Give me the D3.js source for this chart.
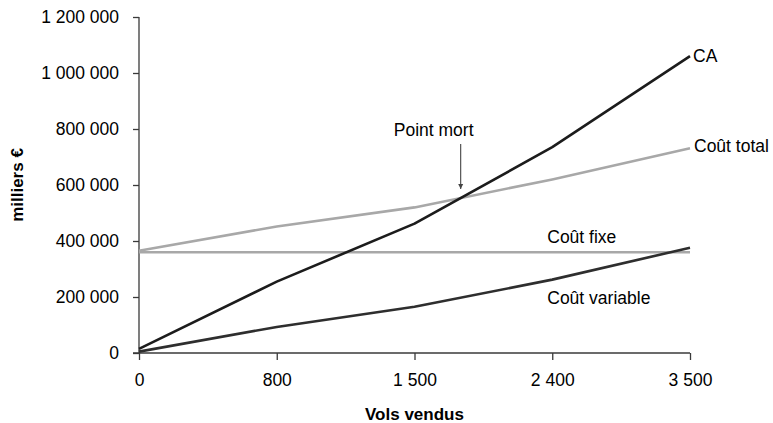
<!DOCTYPE html>
<html lang="fr">
<head>
<meta charset="utf-8">
<script src="https://cdn.jsdelivr.net/npm/d3@7"></script>
<style>
  html, body { margin: 0; padding: 0; background: #fff; }
  svg { display: block; font-family: "Liberation Sans", Arial, Helvetica, sans-serif; }
</style>
</head>
<body>
<svg id="chart" width="773" height="423"></svg>
<script>
// Seuil de rentabilité : chiffre d'affaires et coûts selon le nombre de vols vendus
const volsVendus   = ["0", "800", "1 500", "2 400", "3 500"];
const chiffreAffaires = [15000, 255000, 462000, 735000, 1060000];
const coutTotal    = [365000, 452000, 520000, 620000, 731000];
const coutFixe     = [360000, 360000, 360000, 360000, 360000];
const coutVariable = [5000, 93000, 165000, 262000, 376000];
const yTicks = [0, 200000, 400000, 600000, 800000, 1000000, 1200000];

const series = [
  { name: "Coût fixe",     values: coutFixe,        color: "#a8a8a8" },
  { name: "Coût total",    values: coutTotal,       color: "#a8a8a8" },
  { name: "Coût variable", values: coutVariable,    color: "#2e2e2e" },
  { name: "CA",            values: chiffreAffaires, color: "#1c1c1c" }
];

const svg = d3.select("#chart");
const margin = { left: 139, right: 83, top: 17, bottom: 70 };
const W = +svg.attr("width"), H = +svg.attr("height");

const x = d3.scalePoint().domain(volsVendus).range([margin.left, W - margin.right]);
const y = d3.scaleLinear().domain([0, 1200000]).range([H - margin.bottom, margin.top]);

const fr = d3.formatLocale({ decimal: ",", thousands: " ", grouping: [3], currency: ["", " €"] });
const fmt = fr.format(",d");

const fontSize = "17.5px";
const axisColor = "#3a3a3a";

// Axe vertical
const yAxis = svg.append("g")
  .attr("transform", `translate(${margin.left},0)`)
  .call(d3.axisLeft(y).tickValues(yTicks).tickFormat(fmt).tickSize(6).tickPadding(14));
yAxis.selectAll("text").attr("font-size", fontSize).attr("fill", "#000").attr("font-family", null);
yAxis.selectAll("line, path").attr("stroke", axisColor).attr("stroke-width", 1.3);
yAxis.select(".domain").attr("d", `M0,${y(1200000)}V${y(0)}`);
yAxis.selectAll(".tick line").attr("x2", -6);

// Axe horizontal
const xAxis = svg.append("g")
  .attr("transform", `translate(0,${y(0)})`)
  .call(d3.axisBottom(x).tickSize(7).tickPadding(14));
xAxis.selectAll("text").attr("font-size", fontSize).attr("fill", "#000").attr("font-family", null);
xAxis.selectAll("line, path").attr("stroke", axisColor).attr("stroke-width", 1.3);
xAxis.select(".domain").attr("d", `M${margin.left - 6},0H${x(volsVendus[volsVendus.length - 1])}`);

// Courbes
const line = d3.line()
  .x((d, i) => x(volsVendus[i]))
  .y(d => y(d));

svg.append("g").selectAll("path.serie")
  .data(series)
  .join("path")
  .attr("class", "serie")
  .attr("d", d => line(d.values))
  .attr("fill", "none")
  .attr("stroke", d => d.color)
  .attr("stroke-width", 2.6)
  .attr("stroke-linejoin", "round");

// Étiquettes des courbes
const lastX = x(volsVendus[volsVendus.length - 1]);
const labels = [
  { text: "CA",            x: lastX + 3,  y: y(chiffreAffaires[4]) + 6 },
  { text: "Coût total",    x: lastX + 4,  y: y(coutTotal[4]) + 4 },
  { text: "Coût fixe",     x: x("2 400") - 5, y: y(coutFixe[0]) - 9 },
  { text: "Coût variable", x: x("2 400") - 5, y: y(coutVariable[3]) + 24 }
];
svg.append("g").selectAll("text")
  .data(labels)
  .join("text")
  .attr("x", d => d.x)
  .attr("y", d => d.y)
  .attr("font-size", fontSize)
  .attr("fill", "#000")
  .text(d => d.text);

// Point mort : intersection CA / coût total
let pm = null;
for (let i = 0; i < volsVendus.length - 1 && !pm; i++) {
  const d0 = chiffreAffaires[i] - coutTotal[i];
  const d1 = chiffreAffaires[i + 1] - coutTotal[i + 1];
  if (d0 <= 0 && d1 > 0) {
    const t = -d0 / (d1 - d0);
    const px = x(volsVendus[i]) + t * (x(volsVendus[i + 1]) - x(volsVendus[i]));
    const pv = chiffreAffaires[i] + t * (chiffreAffaires[i + 1] - chiffreAffaires[i]);
    pm = { x: px, y: y(pv) };
  }
}

svg.append("defs").append("marker")
  .attr("id", "fleche")
  .attr("viewBox", "0 0 10 10")
  .attr("refX", 10).attr("refY", 5)
  .attr("markerWidth", 5).attr("markerHeight", 7)
  .attr("markerUnits", "userSpaceOnUse")
  .attr("orient", "auto")
  .append("path")
  .attr("d", "M0,0L10,5L0,10Z")
  .attr("fill", "#444");

svg.append("line")
  .attr("x1", pm.x).attr("x2", pm.x)
  .attr("y1", pm.y - 54).attr("y2", pm.y - 9)
  .attr("stroke", "#444")
  .attr("stroke-width", 1.1)
  .attr("marker-end", "url(#fleche)");

svg.append("text")
  .attr("x", pm.x - 27)
  .attr("y", pm.y - 62)
  .attr("text-anchor", "middle")
  .attr("font-size", fontSize)
  .attr("fill", "#000")
  .text("Point mort");

// Titres des axes
svg.append("text")
  .attr("x", (margin.left + lastX) / 2)
  .attr("y", 420)
  .attr("text-anchor", "middle")
  .attr("font-size", "17px")
  .attr("font-weight", "bold")
  .text("Vols vendus");

svg.append("text")
  .attr("transform", `translate(23,${(y(0) + y(1200000)) / 2}) rotate(-90)`)
  .attr("text-anchor", "middle")
  .attr("font-size", "17px")
  .attr("font-weight", "bold")
  .text("milliers €");
</script>
</body>
</html>
